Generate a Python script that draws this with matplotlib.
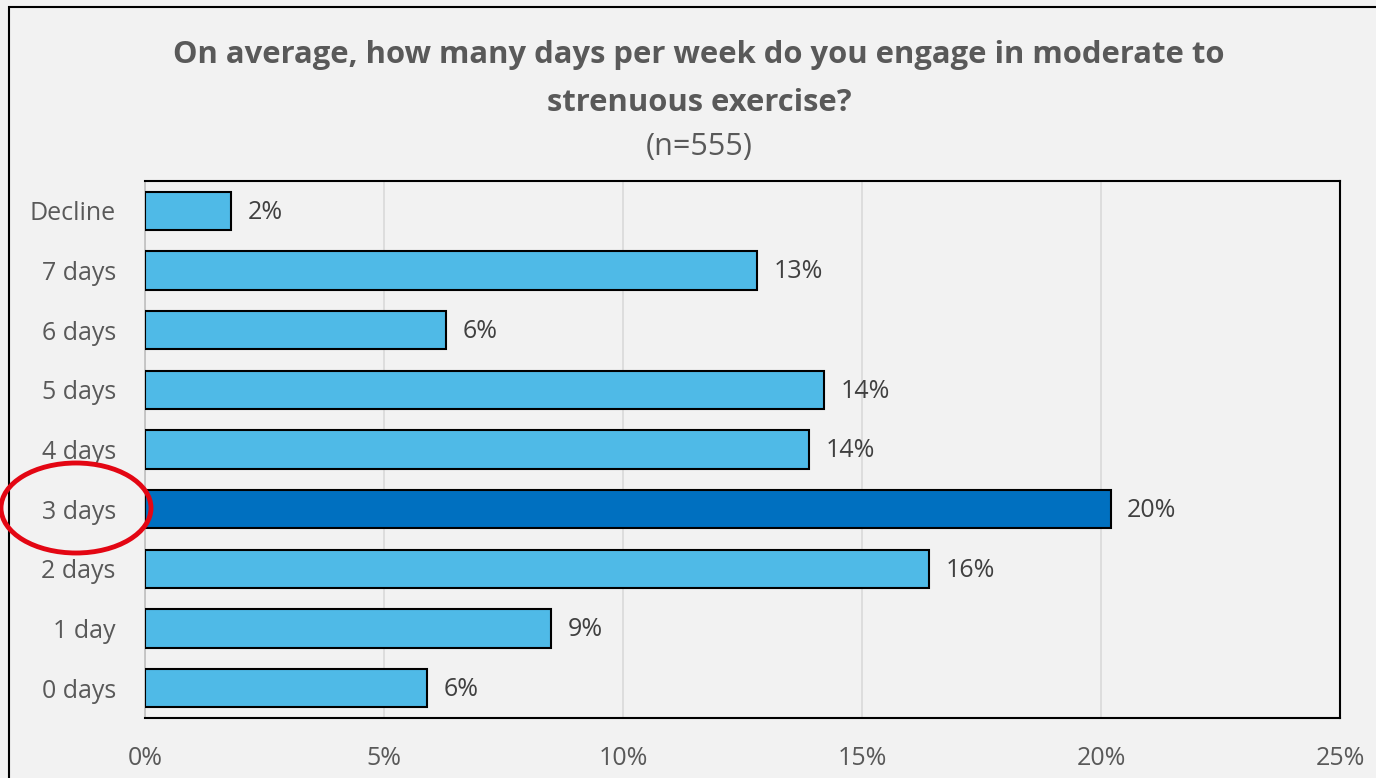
import matplotlib.pyplot as plt
from matplotlib.patches import Ellipse, Rectangle
from matplotlib.ticker import FuncFormatter

categories = ["0 days", "1 day", "2 days", "3 days", "4 days", "5 days", "6 days", "7 days", "Decline"]
values = [5.9, 8.5, 16.4, 20.2, 13.9, 14.2, 6.3, 12.8, 1.8]
labels = ["6%", "9%", "16%", "20%", "14%", "14%", "6%", "13%", "2%"]
highlight = "3 days"

plt.rcParams["font.family"] = ["Open Sans", "DejaVu Sans"]
grey = "#595959"
bg = "#f2f2f2"

fig = plt.figure(figsize=(13.76, 7.78), dpi=100, facecolor=bg)
W, H = 1376, 778
ax = fig.add_axes([145 / W, 1 - 718 / H, (1340 - 145) / W, (718 - 181) / H])
ax.set_facecolor(bg)

colors = ["#0070c0" if c == highlight else "#4fbae7" for c in categories]
y = range(len(categories))
ax.barh(y, values, height=0.64, color=colors, edgecolor="black", linewidth=1.5, zorder=3)
for i, (v, lab) in enumerate(zip(values, labels)):
    ax.annotate(lab, (v, i), xytext=(12, -1), textcoords="offset points",
                va="center", ha="left", fontsize=18, color="#404040")

ax.set_xlim(0, 25)
ax.set_ylim(-0.5, len(categories) - 0.5)
ax.set_yticks(list(y))
ax.set_yticklabels(categories, fontsize=18, color=grey)
ax.set_xticks([0, 5, 10, 15, 20, 25])
ax.xaxis.set_major_formatter(FuncFormatter(lambda x, p: f"{x:.0f}%"))
ax.tick_params(axis="x", labelsize=18, labelcolor=grey, length=0, pad=20)
ax.tick_params(axis="y", length=0, pad=21)
ax.grid(axis="x", color="#d9d9d9", linewidth=1.2, zorder=0)
for s in ["top", "right", "bottom"]:
    ax.spines[s].set_color("black")
    ax.spines[s].set_linewidth(1.5)
ax.spines["left"].set_color("#bfbfbf")
ax.spines["left"].set_linewidth(1.2)

fig.text(699 / W, 1 - 55 / H, "On average, how many days per week do you engage in moderate to",
         ha="center", va="center", fontsize=22.3, fontweight="bold", color=grey)
fig.text(699 / W, 1 - 103 / H, "strenuous exercise?",
         ha="center", va="center", fontsize=22.3, fontweight="bold", color=grey)
fig.text(699 / W, 1 - 147 / H, "(n=555)", ha="center", va="center", fontsize=22, color=grey)

# outer frame
fig.patches.append(Rectangle((9 / W, -0.1), 1.2, 1 - 7 / H + 0.1, transform=fig.transFigure,
                             fill=False, edgecolor="black", linewidth=1.5))

# red circle around 3 days
fig.patches.append(Ellipse((76 / W, 1 - 508 / H), 150 / W, 90 / H, transform=fig.transFigure,
                           fill=False, edgecolor="#e30613", linewidth=3.5, zorder=10))

fig.savefig("out.png", dpi=100, facecolor=bg)
